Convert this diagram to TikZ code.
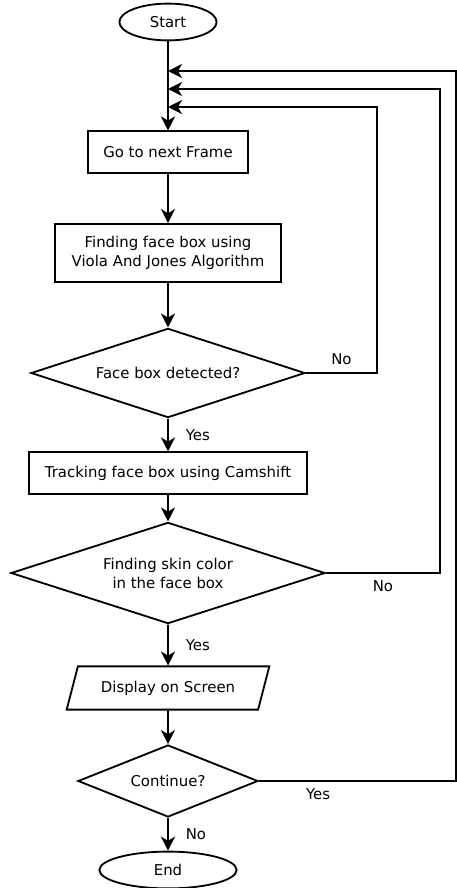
\documentclass[tikz,border=0pt]{standalone}
\usepackage{fontspec}
\setmainfont{DejaVu Sans}
\usepackage{tikz}
\usetikzlibrary{shapes.geometric, arrows.meta, positioning}

\begin{document}
\begin{tikzpicture}[
    x=0.025cm, y=-0.025cm,
    font=\fontsize{10.6}{13.5}\selectfont,
    line width=1.3pt,
    term/.style={draw, ellipse, inner sep=0pt, minimum height=0.92cm},
    proc/.style={draw, rectangle, align=center, inner sep=2pt},
    decide/.style={draw, diamond, align=center, inner sep=0pt},
    io/.style={draw, trapezium, trapezium left angle=60, trapezium right angle=120,
               trapezium stretches=true, inner sep=0pt},
    flow/.style={-{Stealth[length=10pt, width=10pt, inset=3pt]}},
    lbl/.style={inner sep=2pt}
]
    \useasboundingbox (0,0) rectangle (456,888);

    % Start and the loop entries
    \node[term, minimum width=2.43cm] (start) at (168,22) {Start};
    \coordinate (back1) at (168,71);
    \coordinate (back2) at (168,89);
    \coordinate (back3) at (168,107);

    % Detection
    \node[proc, minimum width=4cm, minimum height=1.03cm] (next) at (168,152) {Go to next Frame};
    \node[proc, minimum width=5.63cm, minimum height=1.45cm] (viola) at (168,253)
        {Finding face box using\\Viola And Jones Algorithm};
    \node[decide, aspect=3.08, minimum width=6.85cm, minimum height=2.23cm] (detected) at (168,373)
        {Face box detected?};

    % Tracking
    \node[proc, minimum width=6.95cm, minimum height=1.03cm] (track) at (168,473) {Tracking face box using Camshift};
    \node[decide, aspect=3.1, minimum width=7.85cm, minimum height=2.53cm] (skin) at (168,573)
        {Finding skin color\\in the face box};

    % Output
    \node[io, minimum width=5.07cm, minimum height=1.08cm] (display) at (168,688) {Display on Screen};
    \node[decide, aspect=2.5, minimum width=4.5cm, minimum height=1.8cm] (more) at (168,781) {Continue?};
    \node[term, minimum width=3.43cm] (stop) at (168,870) {End};

    % Main flow
    \draw[flow] (start) -- (next);
    \draw[flow] (next) -- (viola);
    \draw[flow] (viola) -- (detected);
    \draw[flow] (detected) -- node[lbl, right=10pt] {Yes} (track);
    \draw[flow] (track) -- (skin);
    \draw[flow] (skin) -- node[lbl, right=10pt] {Yes} (display);
    \draw[flow] (display) -- (more);
    \draw[flow] (more) -- node[lbl, right=10pt] {No} (stop);

    % Loops back
    \draw[flow] (detected.east) -- node[lbl, above=3pt] {No} ++(71,0) |- (back3);
    \draw[flow] (skin.east) -- node[lbl, below=3pt] {No} ++(114,0) |- (back2);
    \draw[flow] (more.east) -- node[lbl, below=3pt, pos=0.3] {Yes} ++(197,0) |- (back1);
\end{tikzpicture}
\end{document}
